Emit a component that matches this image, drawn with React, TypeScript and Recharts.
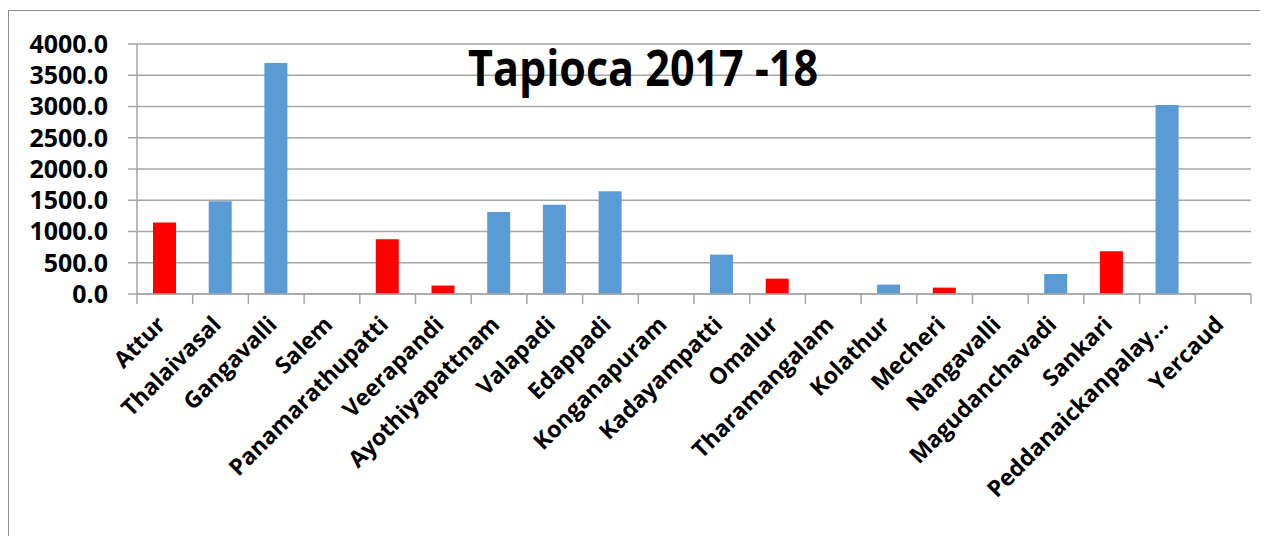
import React from "react";
import { BarChart, Bar, XAxis, YAxis, CartesianGrid, Cell } from "recharts";

const categories = [
  "Attur", "Thalaivasal", "Gangavalli", "Salem", "Panamarathupatti", "Veerapandi",
  "Ayothiyapattnam", "Valapadi", "Edappadi", "Konganapuram", "Kadayampatti", "Omalur",
  "Tharamangalam", "Kolathur", "Mecheri", "Nangavalli", "Magudanchavadi", "Sankari",
  "Peddanaickanpalayam", "Yercaud",
];
const values = [
  1145, 1485, 3695, 0, 875, 135,
  1312, 1430, 1645, 0, 630, 246,
  0, 150, 102, 0, 320, 683,
  3025, 0,
];
const redBlocks = ["Attur", "Panamarathupatti", "Veerapandi", "Omalur", "Mecheri", "Sankari"];
const yTicks = [0, 500, 1000, 1500, 2000, 2500, 3000, 3500, 4000];
const title = "Tapioca 2017 -18";

const data = categories.map((name, i) => ({ name, value: values[i] }));

const W = 1252;
const H = 528;
const M = { top: 36, right: 9, left: 0, bottom: 42 };
const Y_W = 129;
const BAND = (W - M.left - M.right - Y_W) / categories.length;
const GRAY = "#A6A6A6";
const FONT = "'Open Sans', 'Noto Sans', sans-serif";
const RED = "#FF0000";
const BLUE = "#5B9BD5";

const shortLabel = (s: string) => (s.length > 18 ? s.slice(0, 17) + "…" : s);

const XTick = (props: any) => {
  const { x, y, payload, index } = props;
  const half = BAND / 2;
  const px = x + 2;
  const py = y + 32;
  return (
    <g>
      <line x1={x - half} x2={x - half} y1={y} y2={y + 10} stroke={GRAY} strokeWidth={1.5} />
      {index === categories.length - 1 && (
        <line x1={x + half} x2={x + half} y1={y} y2={y + 10} stroke={GRAY} strokeWidth={1.5} />
      )}
      <text
        x={px}
        y={py}
        transform={`rotate(-45, ${px}, ${py})`}
        textAnchor="end"
        fontFamily={FONT}
        fontWeight={700}
        fontSize={23}
        fill="#000"
      >
        {shortLabel(payload.value)}
      </text>
    </g>
  );
};

export default function App() {
  return (
    <div style={{ position: "relative", width: W, height: H }}>
      <div
        style={{
          position: "absolute",
          left: 0,
          top: 2,
          width: W,
          height: H - 2,
          boxSizing: "border-box",
          borderTop: "1px solid #8f8f8f",
          borderLeft: "1px solid #8f8f8f",
          pointerEvents: "none",
        }}
      />
      <BarChart width={W} height={H} data={data} margin={M}>
        <CartesianGrid vertical={false} stroke={GRAY} strokeWidth={1.5} />
        <XAxis
          dataKey="name"
          interval={0}
          height={200}
          tickSize={0}
          tickMargin={0}
          tickLine={false}
          axisLine={{ stroke: GRAY, strokeWidth: 1.5 }}
          tick={<XTick />}
        />
        <YAxis
          width={Y_W}
          domain={[0, 4000]}
          ticks={yTicks}
          interval={0}
          tickFormatter={(v: number) => v.toFixed(1)}
          tickSize={9}
          tickMargin={20}
          axisLine={{ stroke: GRAY, strokeWidth: 1.5 }}
          tickLine={{ stroke: GRAY, strokeWidth: 1.5 }}
          tick={{ fill: "#000", fontFamily: FONT, fontWeight: 700, fontSize: 25 }}
        />
        <Bar dataKey="value" barSize={23} isAnimationActive={false}>
          {data.map((d) => (
            <Cell key={d.name} fill={redBlocks.includes(d.name) ? RED : BLUE} />
          ))}
        </Bar>
      </BarChart>
      <svg
        width={W}
        height={100}
        style={{ position: "absolute", left: 0, top: 0, pointerEvents: "none" }}
      >
        <text
          x={635}
          y={78}
          textAnchor="middle"
          fontFamily={FONT}
          fontWeight={700}
          fontSize={50}
          textLength={350}
          lengthAdjust="spacingAndGlyphs"
          fill="#000"
        >
          {title}
        </text>
      </svg>
    </div>
  );
}
